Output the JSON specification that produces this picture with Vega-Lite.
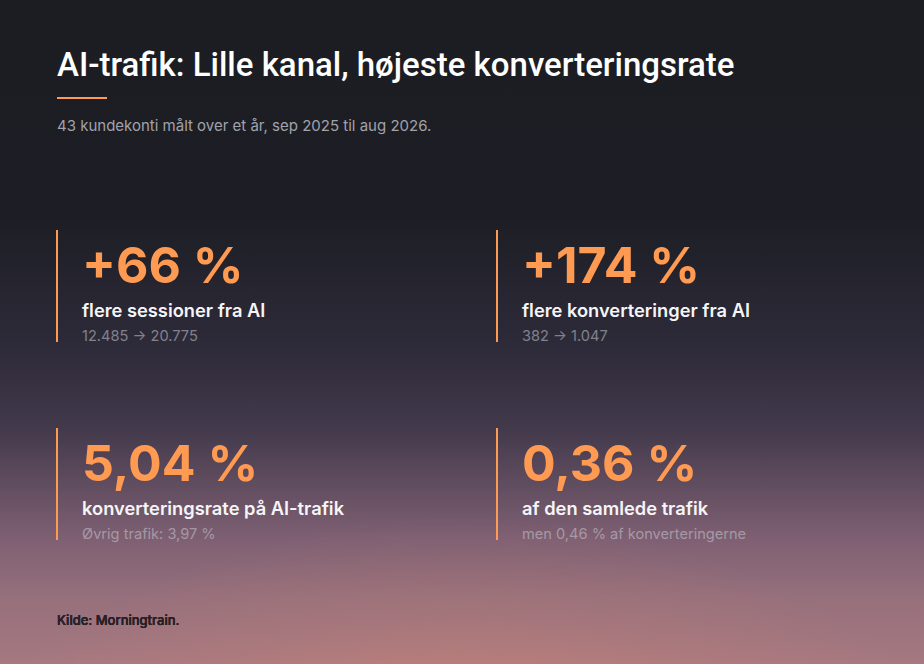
{
  "$schema": "https://vega.github.io/schema/vega-lite/v6.json",
  "description": "KPI-kort: AI-trafik for 43 kundekonti, sep 2025 til aug 2026.",
  "width": 924,
  "height": 664,
  "autosize": {"type": "fit", "contains": "padding"},
  "padding": 0,
  "background": "#1c1d22",
  "title": {
    "text": "AI-trafik: Lille kanal, højeste konverteringsrate",
    "subtitle": "43 kundekonti målt over et år, sep 2025 til aug 2026.",
    "orient": "top",
    "anchor": "start",
    "frame": "group",
    "offset": -134,
    "dx": 57,
    "font": "Roboto",
    "fontSize": 33,
    "fontWeight": 500,
    "color": "#ffffff",
    "subtitleFont": "Inter",
    "subtitleFontSize": 15,
    "subtitleColor": "#a2a2ab",
    "subtitlePadding": 36
  },
  "data": {
    "values": [
      {"kolonne": 1, "raekke": 1, "tal": "+66 %", "tekst": "flere sessioner fra AI", "detalje": "12.485 → 20.775"},
      {"kolonne": 2, "raekke": 1, "tal": "+174 %", "tekst": "flere konverteringer fra AI", "detalje": "382 → 1.047"},
      {"kolonne": 1, "raekke": 2, "tal": "5,04 %", "tekst": "konverteringsrate på AI-trafik", "detalje": "Øvrig trafik: 3,97 %"},
      {"kolonne": 2, "raekke": 2, "tal": "0,36 %", "tekst": "af den samlede trafik", "detalje": "men 0,46 % af konverteringerne"}
    ]
  },
  "layer": [
    {
      "data": {"values": [{}]},
      "mark": {
        "type": "rect",
        "fill": {
          "gradient": "linear",
          "x1": 0, "y1": 0, "x2": 0, "y2": 1,
          "stops": [
            {"offset": 0, "color": "#1c1d22"},
            {"offset": 0.33, "color": "#1d1e25"},
            {"offset": 0.527, "color": "#2e2b3a"},
            {"offset": 0.648, "color": "#433a4c"},
            {"offset": 0.813, "color": "#7f6073"},
            {"offset": 0.9, "color": "#96707c"},
            {"offset": 1, "color": "#a67880"}
          ]
        }
      },
      "encoding": {}
    },
    {
      "data": {"values": [{}]},
      "mark": {
        "type": "rect",
        "fill": {
          "gradient": "radial",
          "x1": 0.5, "y1": 1.5, "r1": 0,
          "x2": 0.5, "y2": 1.5, "r2": 1,
          "stops": [
            {"offset": 0, "color": "rgba(228,140,110,0.85)"},
            {"offset": 0.5, "color": "rgba(228,140,110,0.72)"},
            {"offset": 0.6, "color": "rgba(228,140,110,0.38)"},
            {"offset": 0.69, "color": "rgba(228,140,110,0.13)"},
            {"offset": 0.8, "color": "rgba(228,140,110,0)"},
            {"offset": 1, "color": "rgba(228,140,110,0)"}
          ]
        }
      },
      "encoding": {}
    },
    {
      "mark": {"type": "rule", "color": "#ff9a52", "strokeWidth": 2},
      "encoding": {
        "x": {"datum": 1, "type": "quantitative", "scale": {"domain": [0.87045, 2.97045], "nice": false, "zero": false}},
        "x2": {"datum": 1.11364},
        "y": {"datum": 0.05051, "type": "quantitative", "scale": {"domain": [-0.44444, 2.90909], "reverse": true, "nice": false, "zero": false}}
      }
    },
    {
      "mark": {"type": "text", "text": "Kilde: Morningtrain.", "align": "left", "baseline": "middle", "font": "Inter", "fontSize": 13, "fontWeight": 500, "color": "#2a2127"},
      "encoding": {
        "x": {"datum": 1, "type": "quantitative", "scale": {"domain": [0.87045, 2.97045], "nice": false, "zero": false}},
        "y": {"datum": 2.69192, "type": "quantitative", "scale": {"domain": [-0.44444, 2.90909], "reverse": true, "nice": false, "zero": false}}
      }
    },
    {
      "encoding": {
        "x": {"field": "kolonne", "type": "quantitative", "scale": {"domain": [0.87045, 2.97045], "nice": false, "zero": false}},
        "y": {"field": "raekke", "type": "quantitative", "scale": {"domain": [-0.44444, 2.90909], "reverse": true, "nice": false, "zero": false}}
      },
      "layer": [
        {
          "mark": {"type": "tick", "orient": "vertical", "color": "#ff9a52", "size": 112, "thickness": 2, "opacity": 1}
        },
        {
          "mark": {"type": "text", "align": "left", "baseline": "alphabetic", "dx": 25, "dy": -3, "font": "Inter", "fontSize": 50, "fontWeight": 700, "color": "#ff9a52"},
          "encoding": {"text": {"field": "tal"}}
        },
        {
          "mark": {"type": "text", "align": "left", "baseline": "alphabetic", "dx": 25, "dy": 31, "font": "Inter", "fontSize": 18.3, "fontWeight": 600, "color": "#f5f5f7"},
          "encoding": {"text": {"field": "tekst"}}
        },
        {
          "mark": {"type": "text", "align": "left", "baseline": "alphabetic", "dx": 25, "dy": 55, "font": "Inter", "fontSize": 14.6, "fontWeight": 400, "color": "#c8c8d0", "opacity": 0.55},
          "encoding": {"text": {"field": "detalje"}}
        }
      ]
    }
  ],
  "config": {
    "view": {"stroke": null},
    "axis": {"disable": true}
  }
}
